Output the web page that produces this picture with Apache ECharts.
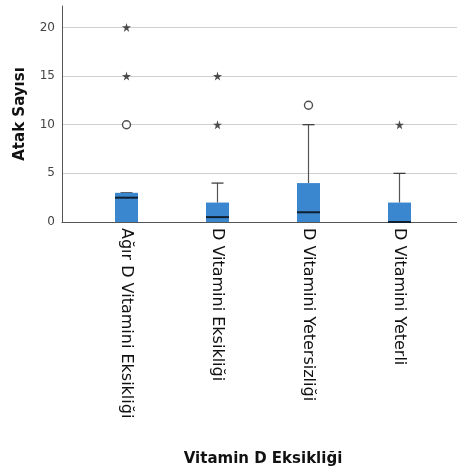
<!DOCTYPE html>
<html>
<head>
<meta charset="utf-8">
<script src="https://cdn.jsdelivr.net/npm/echarts@6/dist/echarts.min.js"></script>
<style>
  html, body { margin: 0; padding: 0; background: #fff; }
  #main { width: 457px; height: 472px; }
</style>
</head>
<body>
<div id="main"></div>
<script>
  // categories and box stats
  var categories = ['Ağır D Vitamini Eksikliği', 'D Vitamini Eksikliği', 'D Vitamini Yetersizliği', 'D Vitamini Yeterli'];
  var whiskerLow = [0, 0, 0, 0];
  var q1 = [0, 0, 0, 0];
  var median = [2.5, 0.5, 1, 0];
  var q3 = [3, 2, 4, 2];
  var whiskerHigh = [3, 4, 10, 5];
  // outliers: circles, extremes: stars  [category index, value]
  var outliers = [[0, 10], [2, 12]];
  var extremes = [[0, 20], [0, 15], [1, 15], [1, 10], [3, 10]];
  var yTicks = [0, 5, 10, 15, 20];

  var boxData = [];
  for (var i = 0; i < categories.length; i++) {
    boxData.push([i, whiskerLow[i], q1[i], median[i], q3[i], whiskerHigh[i]]);
  }

  var starPath = 'path://M50,0 L61,35 L98,35 L68,57 L79,91 L50,70 L21,91 L32,57 L2,35 L39,35 Z';
  var font = 'DejaVu Sans';

  var myChart = echarts.init(document.getElementById('main'));
  myChart.setOption({
    animation: false,
    grid: [
      { left: 62, right: 0, top: 6, bottom: 250 },
      { left: 81, right: 12, top: 6, bottom: 250 }
    ],
    xAxis: [
      {
        gridIndex: 0,
        type: 'value',
        min: 0,
        max: 1,
        axisLine: { show: true, lineStyle: { color: '#555', width: 1 } },
        axisTick: { show: false },
        axisLabel: { show: false },
        splitLine: { show: false }
      },
      {
        gridIndex: 1,
        type: 'category',
        data: categories,
        axisLine: { show: false },
        axisTick: { show: false },
        axisLabel: {
          rotate: -90,
          margin: 6,
          fontFamily: font,
          fontSize: 16,
          color: '#111'
        },
        name: 'Vitamin D Eksikliği',
        nameLocation: 'middle',
        nameGap: 230,
        nameTextStyle: { fontFamily: font, fontSize: 15, fontWeight: 'bold', color: '#111' }
      }
    ],
    yAxis: [
      {
        gridIndex: 0,
        type: 'value',
        min: 0,
        max: 22.2,
        interval: 5,
        axisLine: { show: true, lineStyle: { color: '#555', width: 1 } },
        axisTick: { show: false },
        axisLabel: {
          margin: 7,
          fontFamily: font,
          fontSize: 12,
          color: '#444',
          formatter: function (v) { return yTicks.indexOf(v) >= 0 ? v : ''; }
        },
        splitLine: { show: true, showMaxLine: false, lineStyle: { color: '#cfcfcf', width: 1 } },
        name: 'Atak Sayısı',
        nameLocation: 'middle',
        nameGap: 34,
        nameTextStyle: { fontFamily: font, fontSize: 15, fontWeight: 'bold', color: '#111' }
      },
      {
        gridIndex: 1,
        type: 'value',
        min: 0,
        max: 22.2,
        show: false
      }
    ],
    series: [
      {
        type: 'custom',
        xAxisIndex: 1,
        yAxisIndex: 1,
        data: boxData,
        renderItem: function (params, api) {
          var x = api.value(0);
          var pLow = api.coord([x, api.value(1)]);
          var pQ1 = api.coord([x, api.value(2)]);
          var pMed = api.coord([x, api.value(3)]);
          var pQ3 = api.coord([x, api.value(4)]);
          var pHigh = api.coord([x, api.value(5)]);
          var halfBox = 11.5;
          var halfCap = 6;
          return {
            type: 'group',
            children: [
              { type: 'line', shape: { x1: pHigh[0], y1: pHigh[1], x2: pQ3[0], y2: pQ3[1] }, style: { stroke: '#555', lineWidth: 1.2 } },
              { type: 'line', shape: { x1: pHigh[0] - halfCap, y1: pHigh[1], x2: pHigh[0] + halfCap, y2: pHigh[1] }, style: { stroke: '#333', lineWidth: 1.2 } },
              { type: 'line', shape: { x1: pLow[0], y1: pLow[1], x2: pQ1[0], y2: pQ1[1] }, style: { stroke: '#555', lineWidth: 1.2 } },
              { type: 'rect', shape: { x: pQ3[0] - halfBox, y: pQ3[1], width: halfBox * 2, height: pQ1[1] - pQ3[1] }, style: { fill: '#3a87cf', stroke: null } },
              { type: 'line', shape: { x1: pMed[0] - halfBox, y1: pMed[1], x2: pMed[0] + halfBox, y2: pMed[1] }, style: { stroke: '#10202e', lineWidth: 2 } }
            ]
          };
        }
      },
      {
        type: 'scatter',
        xAxisIndex: 1,
        yAxisIndex: 1,
        data: outliers,
        symbol: 'circle',
        symbolSize: 8,
        itemStyle: { color: '#fff', borderColor: '#222', borderWidth: 1.4 }
      },
      {
        type: 'scatter',
        xAxisIndex: 1,
        yAxisIndex: 1,
        data: extremes,
        symbol: starPath,
        symbolSize: 9,
        itemStyle: { color: '#222' }
      }
    ]
  });
</script>
</body>
</html>
